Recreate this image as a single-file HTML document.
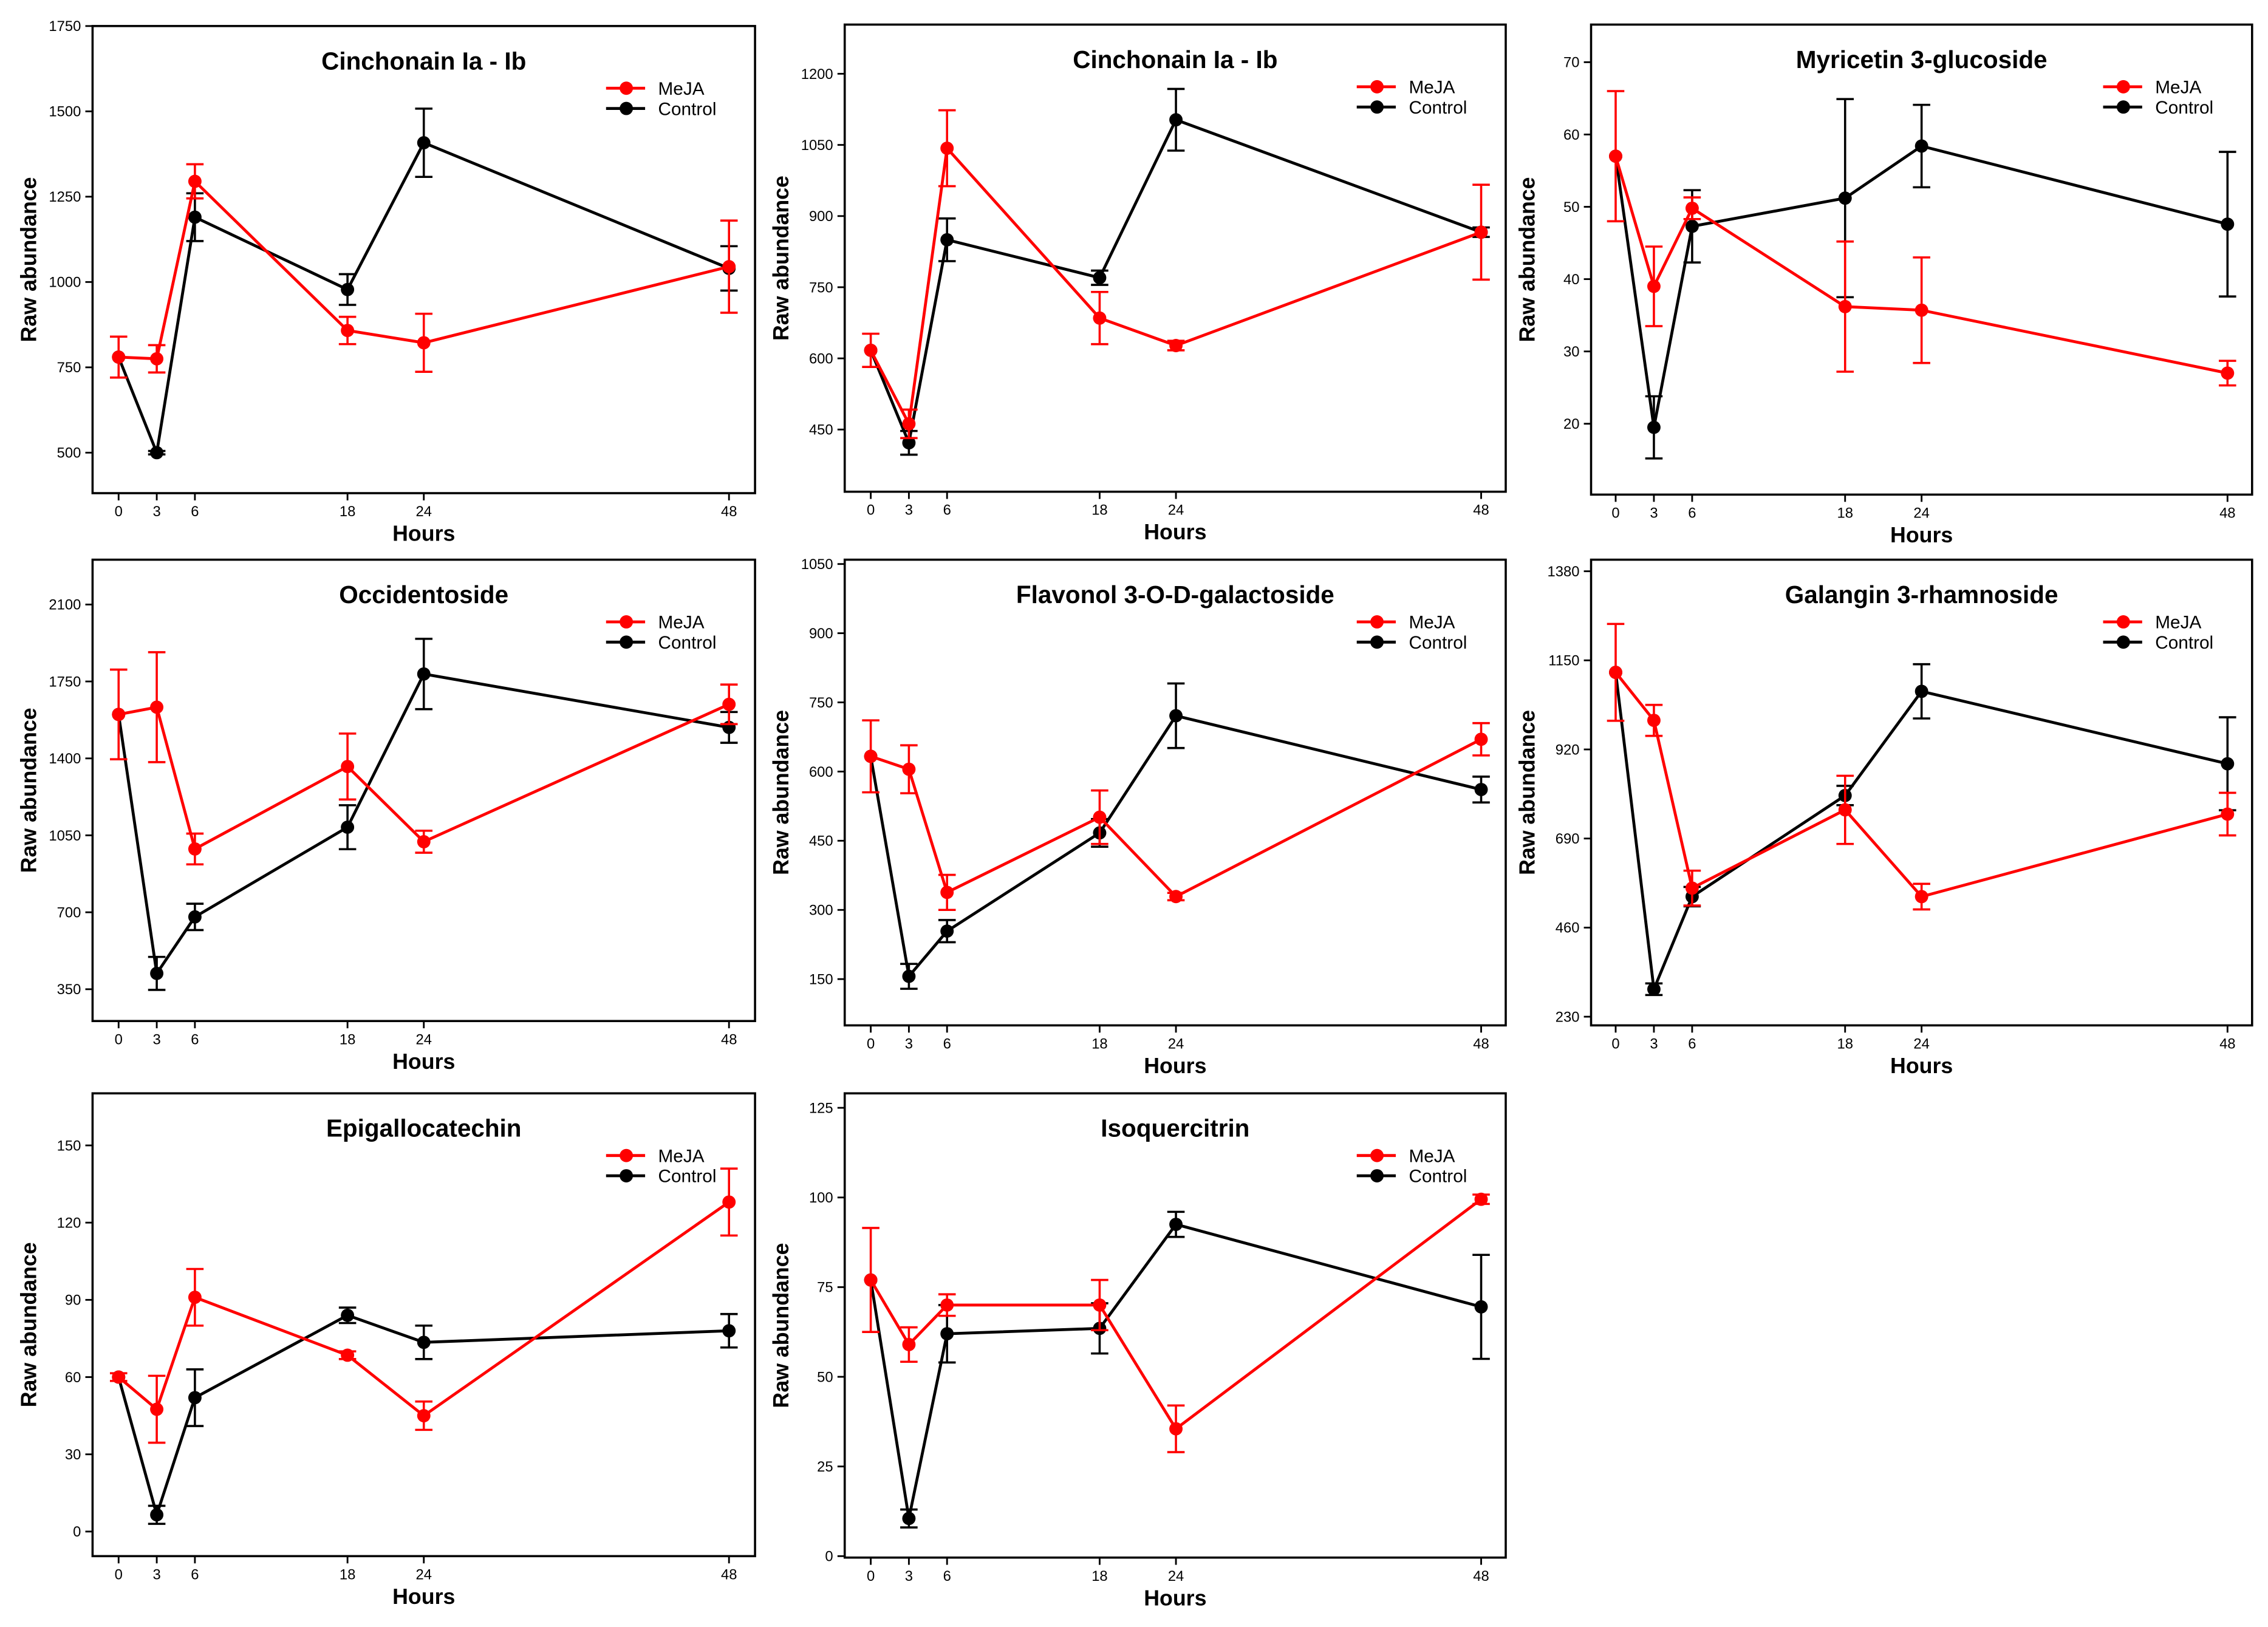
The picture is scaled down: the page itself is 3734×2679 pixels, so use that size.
<!DOCTYPE html>
<html><head><meta charset="utf-8">
<style>
html,body{margin:0;padding:0;background:#fff;}
svg{display:block;}
text{font-family:"Liberation Sans Narrow","Liberation Sans",Arial,sans-serif;}
</style></head>
<body>
<svg id="chart" width="3734" height="2679" viewBox="0 0 1568 1125" preserveAspectRatio="none" xmlns="http://www.w3.org/2000/svg"></svg>
<script>
const hours = [0, 3, 6, 18, 24, 48];
const titles = ["Cinchonain Ia - Ib","Cinchonain Ia - Ib","Myricetin 3-glucoside","Occidentoside","Flavonol 3-O-D-galactoside","Galangin 3-rhamnoside","Epigallocatechin","Isoquercitrin"];
const yTicks = [
  [500,750,1000,1250,1500,1750],
  [450,600,750,900,1050,1200],
  [20,30,40,50,60,70],
  [350,700,1050,1400,1750,2100],
  [150,300,450,600,750,900,1050],
  [230,460,690,920,1150,1380],
  [0,30,60,90,120,150],
  [0,25,50,75,100,125]
];
const mejaMean = [
  [780,775,1295,858,822,1045],
  [617,462,1043,685,627,866],
  [57,39,49.8,36.2,35.7,27],
  [1600,1633,988,1363,1021,1646],
  [633,605,338,501,329,670],
  [1119,995,562,764,540,753],
  [60,47.5,91,68.5,45,128],
  [77,59,70,70,35.5,99.5]
];
const mejaErr = [
  [60,40,50,40,85,135],
  [35,30,80,55,10,100],
  [9,5.5,1.5,9,7.3,1.7],
  [204,250,70,150,50,90],
  [78,52,38,58,8,35],
  [125,40,45,88,33,55],
  [1.5,13,11,1.5,5.5,13],
  [14.5,4.8,3,7,6.5,1.3]
];
const ctrlMean = [
  [780,500,1190,978,1408,1040],
  [617,422,850,770,1103,866],
  [57,19.5,47.3,51.2,58.4,47.6],
  [1600,422,679,1087,1784,1541],
  [633,156,254,467,721,561],
  [1119,301,540,801,1070,883],
  [60,6.5,52,84,73.5,78],
  [77,10.5,62,63.5,92.5,69.5]
];
const ctrlErr = [
  [0,5,70,45,100,65],
  [0,25,45,15,65,10],
  [0,4.3,5,13.7,5.7,10],
  [0,75,60,100,160,70],
  [0,27,24,30,70,28],
  [0,15,25,25,70,120],
  [0,3.5,11,3,6.5,6.5],
  [0,2.5,8,7,3.5,14.5]
];
// layout: [left, top, right, bottom, x0px, x48px, firstTickPx, lastTickPx]
const layout = [
  [64,18,522,341,82,504,313,18],
  [584,17,1041,340,602,1024,297,51],
  [1100,17,1557,342,1117,1540,293,43],
  [64,387,522,706,82,504,684,418],
  [584,387,1041,709,602,1024,677,390],
  [1100,387,1557,709,1117,1540,703,395],
  [64,756,522,1076,82,504,1059,792],
  [584,756,1041,1077,602,1024,1076,766]
];
const NS="http://www.w3.org/2000/svg";
const svg=document.getElementById('chart');
function mk(tag,attrs,parent){const e=document.createElementNS(NS,tag);for(const k in attrs)e.setAttribute(k,attrs[k]);(parent||svg).appendChild(e);return e;}
for(let p=0;p<8;p++){
  const [L,T,R,B,x0,x48,t0,t1]=layout[p];
  const tk=yTicks[p];
  const g=mk('g',{});
  
  
  const xs=h=>x0+(x48-x0)*h/48;
  const ys=v=>t0+(t1-t0)*(v-tk[0])/(tk[tk.length-1]-tk[0]);
  const box=mk('rect',{x:L,y:T,width:R-L,height:B-T,fill:'none',stroke:'#000','stroke-width':1.5},g);
  
  
  tk.forEach(v=>{
    const y=ys(v);
    const l=mk('line',{x1:L-5,x2:L,y1:y,y2:y,stroke:'#000','stroke-width':1.2},g);
    
    
    const t=mk('text',{x:L-8,y:y+3.5,'text-anchor':'end','font-size':10},g);
    
    
    t.textContent=v;
  });
  hours.forEach(h=>{
    const x=xs(h);
    const l=mk('line',{x1:x,x2:x,y1:B,y2:B+5,stroke:'#000','stroke-width':1.2},g);
    
    
    const t=mk('text',{x:x,y:B+16,'text-anchor':'middle','font-size':10},g);
    
    
    t.textContent=h;
  });
  const xt=mk('text',{x:(L+R)/2,y:B+33,'text-anchor':'middle','font-size':15,'font-weight':'bold'},g);
  
  
  xt.textContent='Hours';
  const cy=(T+B)/2;
  const yt=mk('text',{x:L-39,y:cy,'text-anchor':'middle','font-size':15,'font-weight':'bold',transform:'rotate(-90 '+(L-39)+' '+cy+')'},g);
  
  
  yt.textContent='Raw abundance';
  const tt=mk('text',{x:(L+R)/2,y:T+30,'text-anchor':'middle','font-size':17,'font-weight':'bold'},g);
  
  
  tt.textContent=titles[p];
  const series=[[ctrlMean[p],ctrlErr[p],'#000','control'],[mejaMean[p],mejaErr[p],'#ff0000','meja']];
  series.forEach(([m,e,c,nm])=>{
    const pts=hours.map((h,i)=>xs(h)+','+ys(m[i])).join(' ');
    const pl=mk('polyline',{points:pts,fill:'none',stroke:c,'stroke-width':2},g);
    
    
    hours.forEach((h,i)=>{
      const x=xs(h),yT=ys(m[i]+e[i]),yB=ys(m[i]-e[i]);
      if(e[i]>0){
        const eb=mk('path',{d:`M${x},${yT}V${yB}M${x-6},${yT}H${x+6}M${x-6},${yB}H${x+6}`,stroke:c,'stroke-width':1.5,fill:'none'},g);
        
        
      }
      const pt=mk('circle',{cx:x,cy:ys(m[i]),r:4.6,fill:c},g);
      
      
    });
  });
  [['MeJA','#ff0000',43],['Control','#000',57]].forEach(([lab,c,dy])=>{
    const y=T+dy;
    const ll=mk('line',{x1:R-103,x2:R-76,y1:y,y2:y,stroke:c,'stroke-width':2},g);
    
    
    const lc=mk('circle',{cx:R-89,cy:y,r:4.6,fill:c},g);
    
    
    const lt=mk('text',{x:R-67,y:y+4.5,'font-size':12.5},g);
    
    
    lt.textContent=lab;
  });
}
</script>
</body></html>
